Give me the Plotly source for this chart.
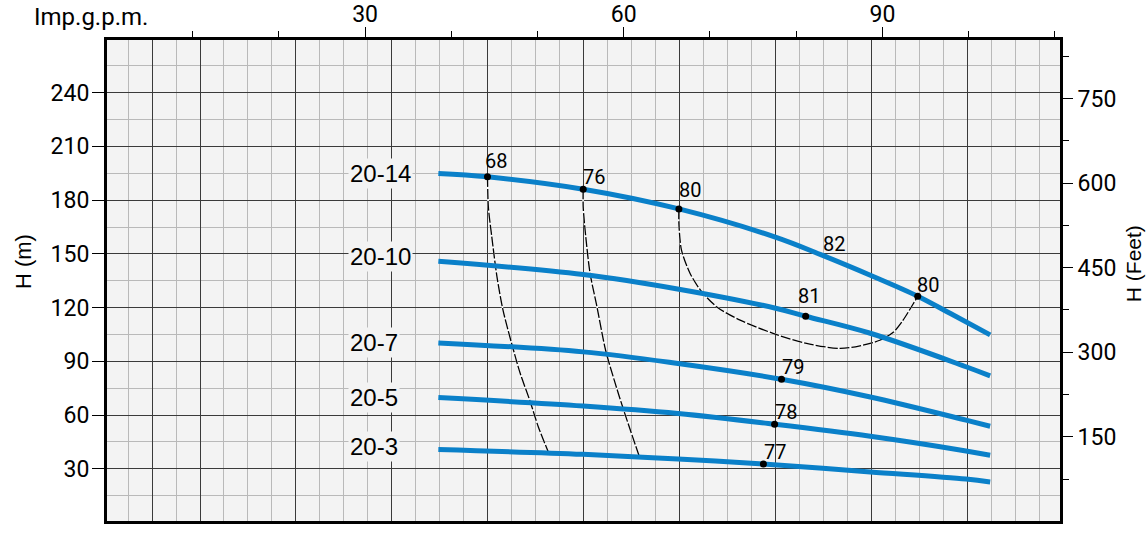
import plotly.graph_objects as go

# ---------------- data (flow in Imp.g.p.m., head in m) ----------------
q_20_14 = [38.5, 44.2, 55.3, 66.4, 77.5, 83.0, 88.6, 94.1, 97.9, 102.5]
h_20_14 = [194.9, 193.0, 186.1, 175.1, 159.5, 149.3, 138.1, 126.4, 116.7, 104.8]

q_20_10 = [38.5, 55.3, 66.4, 77.5, 81.1, 88.6, 99.7, 102.5]
h_20_10 = [145.9, 138.5, 130.3, 119.8, 115.2, 105.7, 87.0, 81.9]

q_20_7 = [38.5, 55.3, 66.3, 78.3, 88.6, 99.7, 102.5]
h_20_7 = [100.3, 95.3, 88.8, 80.0, 70.1, 57.2, 53.8]

q_20_5 = [38.5, 55.3, 66.3, 77.5, 88.6, 99.7, 102.5]
h_20_5 = [69.8, 65.1, 60.9, 54.9, 48.2, 40.0, 37.6]

q_20_3 = [38.5, 55.3, 66.3, 76.2, 88.6, 99.7, 102.5]
h_20_3 = [40.8, 38.1, 35.5, 32.7, 28.3, 24.3, 22.7]

curve_names = ["20-14", "20-10", "20-7", "20-5", "20-3"]
curve_q = [q_20_14, q_20_10, q_20_7, q_20_5, q_20_3]
curve_h = [h_20_14, h_20_10, h_20_7, h_20_5, h_20_3]

# efficiency points (%)
eff_text = ["68", "76", "80", "82", "80", "81", "79", "78", "77"]
eff_q = [44.2, 55.3, 66.4, 83.0, 94.1, 81.1, 78.3, 77.5, 76.2]
eff_h = [193.0, 186.1, 175.1, 149.3, 126.4, 115.2, 80.0, 54.9, 32.7]
eff_dot = [True, True, True, False, True, True, True, True, True]

# iso-efficiency lines
iso68_q = [44.2, 44.3, 44.7, 45.3, 46.0, 47.0, 48.0, 49.1, 50.1, 51.3]
iso68_h = [193.0, 176.2, 159.5, 137.2, 118.6, 100.0, 83.2, 68.3, 53.4, 38.9]
iso76_q = [55.3, 55.3, 55.6, 56.1, 56.9, 57.9, 58.9, 60.0, 61.8]
iso76_h = [186.1, 176.2, 159.5, 139.1, 120.4, 96.2, 79.5, 62.7, 37.0]
iso80_q = [66.4, 66.4, 66.7, 67.7, 68.9, 70.8, 73.5, 77.4, 81.2, 85.1, 87.4, 89.7, 91.3, 92.4, 93.6, 94.1]
iso80_h = [175.1, 167.0, 152.1, 139.1, 129.8, 120.4, 113.0, 105.5, 100.0, 97.2, 98.7, 101.8, 106.4, 113.0, 122.3, 126.4]

# axis ticks
h_m_ticks = [30, 60, 90, 120, 150, 180, 210, 240]
h_ft_ticks = [150, 300, 450, 600, 750]
gpm_ticks = [30, 60, 90]

# ---------------- styling ----------------
BLUE = "#0a80c9"
BG = "#f3f3f3"
NARROW = "Roboto, Liberation Sans, sans-serif"
SANS = "Liberation Sans, Arial, sans-serif"

fig = go.Figure()

# dummy traces so all axes are registered
fig.add_trace(go.Scatter(x=[], y=[], xaxis="x", yaxis="y", hoverinfo="skip", showlegend=False))
fig.add_trace(go.Scatter(x=[], y=[], xaxis="x", yaxis="y2", hoverinfo="skip", showlegend=False))

for iq, ih in [(iso68_q, iso68_h), (iso76_q, iso76_h), (iso80_q, iso80_h)]:
    fig.add_trace(go.Scatter(x=iq, y=ih, xaxis="x2", yaxis="y", mode="lines",
                             line=dict(color="white", width=1.6, shape="spline", smoothing=0.8),
                             hoverinfo="skip", showlegend=False))
    fig.add_trace(go.Scatter(x=iq, y=ih, xaxis="x2", yaxis="y", mode="lines",
                             line=dict(color="black", width=1.3, dash="10px,2px", shape="spline", smoothing=0.8),
                             hoverinfo="skip", showlegend=False))

for name, cq, ch in zip(curve_names, curve_q, curve_h):
    fig.add_trace(go.Scatter(x=cq, y=ch, xaxis="x2", yaxis="y", mode="lines", name=name,
                             line=dict(color=BLUE, width=5, shape="spline", smoothing=1.0),
                             showlegend=False))

dq = [q for q, d in zip(eff_q, eff_dot) if d]
dh = [h for h, d in zip(eff_h, eff_dot) if d]
fig.add_trace(go.Scatter(x=dq, y=dh, xaxis="x2", yaxis="y", mode="markers",
                         marker=dict(color="black", size=7), showlegend=False))

annotations = []
# curve labels
curve_label_yshift = [0, 5, 0, 0, 3]
for name, cq, ch, ys in zip(curve_names, curve_q, curve_h, curve_label_yshift):
    annotations.append(dict(x=cq[0], y=ch[0], xref="x2", yref="y", text=name, showarrow=False,
                            xanchor="left", yanchor="middle", xshift=-90, yshift=ys,
                            font=dict(family=SANS, size=24, color="black"),
                            bgcolor=BG, borderpad=1))
# efficiency labels
eff_offsets = [(9, 16), (11, 12), (11, 19), (12, 11), (10, 11), (3, 20), (11, 12), (11, 12), (12, 12)]
for t, q, h, (dx, dy) in zip(eff_text, eff_q, eff_h, eff_offsets):
    annotations.append(dict(x=q, y=h, xref="x2", yref="y", text=t, showarrow=False,
                            xanchor="center", yanchor="middle", xshift=dx, yshift=dy,
                            font=dict(family=NARROW, size=20, color="black")))
# titles
annotations.append(dict(x=-0.0787, y=1.048, xref="paper", yref="paper", text="Imp.g.p.m.",
                        showarrow=False, xanchor="left", yanchor="middle",
                        font=dict(family=NARROW, size=24, color="black")))
annotations.append(dict(x=-0.087, y=0.5385, xref="paper", yref="paper", text="H (m)",
                        showarrow=False, xanchor="center", yanchor="middle", textangle=-90,
                        font=dict(family=SANS, size=22, color="black")))
annotations.append(dict(x=1.0766, y=0.536, xref="paper", yref="paper", text="H (Feet)",
                        showarrow=False, xanchor="center", yanchor="middle", textangle=-90,
                        font=dict(family=SANS, size=21, color="black")))

tickfont = dict(family=NARROW, size=23, color="black")

fig.update_layout(
    template="none",
    width=1146, height=546,
    margin=dict(l=107, r=86, t=40, b=25, autoexpand=False),
    plot_bgcolor=BG, paper_bgcolor="white",
    font=dict(family=NARROW, color="black"),
    showlegend=False,
    annotations=annotations,
    xaxis=dict(range=[0.092, 29.89], showticklabels=False, ticks="", automargin=False,
               tickmode="array", tickvals=[1.5] + [3 * k for k in range(1, 10)],
               showgrid=True, gridcolor="#3a3a3a", gridwidth=1.2,
               minor=dict(tick0=0, dtick=0.75, showgrid=True, gridcolor="#b9b9b9", gridwidth=1),
               showline=True, mirror=True, linecolor="black", linewidth=3, zeroline=False),
    xaxis2=dict(overlaying="x", side="top", range=[0.07, 110.6], automargin=False,
                tickmode="array", tickvals=gpm_ticks, ticks="outside", ticklen=12,
                tickwidth=1.3, tickcolor="black", tickfont=tickfont, ticklabelstandoff=-4,
                minor=dict(tick0=0, dtick=10, ticks="outside", ticklen=8, tickwidth=1.3,
                           tickcolor="black", showgrid=False),
                showgrid=False, zeroline=False, showline=False),
    yaxis=dict(range=[0.89, 269.4], tickmode="array", tickvals=h_m_ticks, automargin=False,
               ticks="outside", ticklen=12, tickwidth=1.3, tickcolor="black", tickfont=tickfont,
               ticklabelstandoff=-2,
               showgrid=True, gridcolor="#3a3a3a", gridwidth=1.2,
               minor=dict(tick0=0, dtick=15, showgrid=True, gridcolor="#b9b9b9", gridwidth=1),
               showline=True, mirror=True, linecolor="black", linewidth=3, zeroline=False),
    yaxis2=dict(overlaying="y", side="right", range=[0.7, 853.7], automargin=False,
                tickmode="array", tickvals=h_ft_ticks, ticks="outside", ticklen=12,
                tickwidth=1.3, tickcolor="black", tickfont=tickfont,
                minor=dict(tick0=0, dtick=75, ticks="outside", ticklen=8, tickwidth=1.3,
                           tickcolor="black", showgrid=False),
                showgrid=False, zeroline=False, showline=False),
)

fig.write_html("out.html", config={"displayModeBar": False},
               post_script="document.body.style.margin='0px';")
